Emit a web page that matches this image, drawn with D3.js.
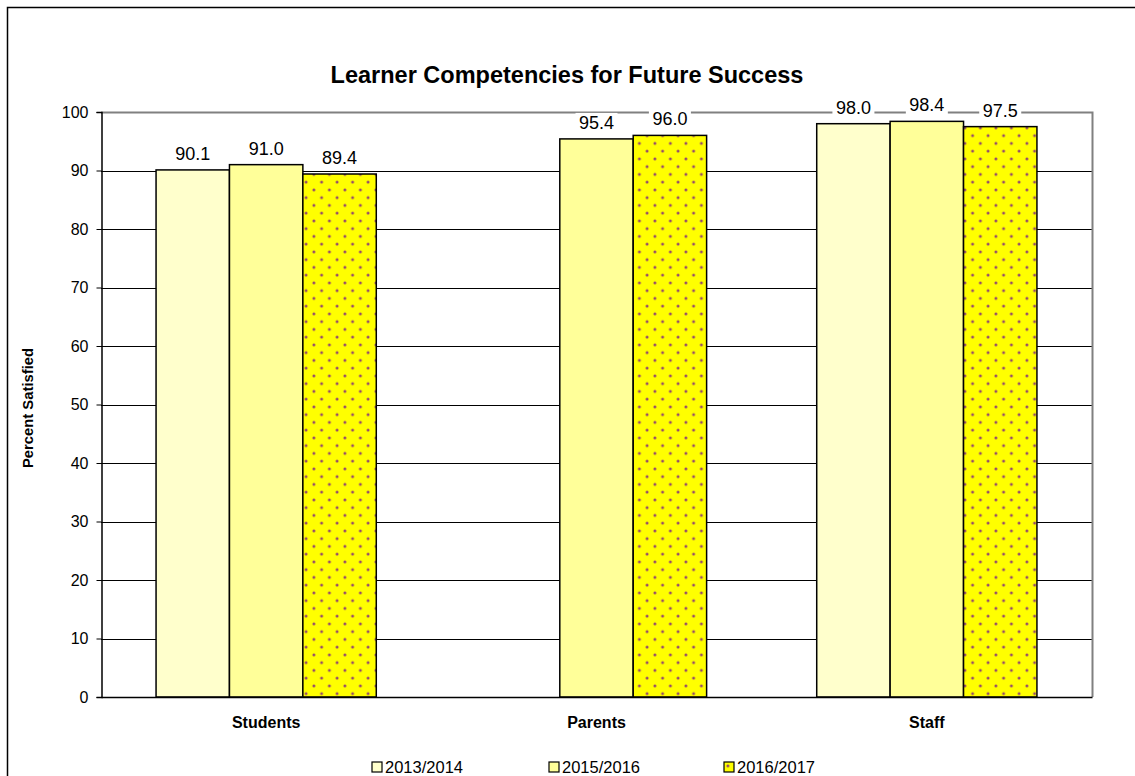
<!DOCTYPE html>
<html>
<head>
    <title>Learner Competencies for Future Success</title>
    <script src="https://cdn.jsdelivr.net/npm/d3@7"></script>
    <style>
        body { margin: 0; background: #fff; }
        text { font-family: Arial, "Liberation Sans", sans-serif; }
    </style>
</head>
<body>
    <div id="chart"></div>
    <script type="text/javascript">
        var categories = ["Students", "Parents", "Staff"];
        var seriesNames = ["2013/2014", "2015/2016", "2016/2017"];
        var v2013 = [90.1, null, 98.0];
        var v2015 = [91.0, 95.4, 98.4];
        var v2016 = [89.4, 96.0, 97.5];
        var yTicks = [0, 10, 20, 30, 40, 50, 60, 70, 80, 90, 100];

        var seriesValues = [v2013, v2015, v2016];
        var fills = ["#FFFFCC", "#FFFF99", "url(#dots)"];

        var width = 1135;
        var height = 776;
        var plot = { left: 101, right: 1092, top: 112, bottom: 697 };

        var svg = d3.select("#chart").append("svg")
            .attr('width', width)
            .attr('height', height)
            .style('display', 'block');

        // dotted fill for the last series
        var pat = svg.append("defs").append("pattern")
            .attr("id", "dots")
            .attr("patternUnits", "userSpaceOnUse")
            .attr("width", 15.5)
            .attr("height", 15.5);
        pat.append("rect").attr("width", 15.5).attr("height", 15.5).attr("fill", "#FFFF00");
        pat.append("circle").attr("cx", 3.9).attr("cy", 3.9).attr("r", 1.5).attr("fill", "#93486e");
        pat.append("circle").attr("cx", 11.6).attr("cy", 11.6).attr("r", 1.5).attr("fill", "#93486e");

        // outer chart border (runs off the right and bottom)
        svg.append("rect")
            .attr("x", 7.5).attr("y", 7.5)
            .attr("width", 1140).attr("height", 800)
            .attr("fill", "none")
            .attr("stroke", "#000")
            .attr("stroke-width", 1.5);

        var yScale = d3.scaleLinear()
            .domain([0, 100])
            .range([plot.bottom, plot.top]);

        var xScale = d3.scaleBand()
            .domain(categories)
            .range([plot.left, plot.right]);

        var groupWidth = xScale.bandwidth() * 2 / 3;
        var inner = d3.scaleBand()
            .domain(seriesNames)
            .range([0, groupWidth]);

        // gridlines
        svg.append("g").selectAll("line")
            .data(yTicks.filter(function(d) { return d > 0 && d < 100; }))
            .enter().append("line")
                .attr("x1", plot.left).attr("x2", plot.right)
                .attr("y1", function(d) { return Math.round(yScale(d)) + 0.5; })
                .attr("y2", function(d) { return Math.round(yScale(d)) + 0.5; })
                .attr("stroke", "#000")
                .attr("stroke-width", 1);

        // plot area border (top & right gray)
        svg.append("path")
            .attr("d", "M" + plot.left + "," + (plot.top + 0.5) + "H" + (plot.right + 0.5) + "V" + plot.bottom)
            .attr("fill", "none")
            .attr("stroke", "#808080")
            .attr("stroke-width", 2);

        // bars
        var barData = [];
        seriesValues.forEach(function(vals, s) {
            vals.forEach(function(v, c) {
                if (v !== null) barData.push({ cat: categories[c], series: seriesNames[s], s: s, value: v });
            });
        });

        function barX(d) {
            return xScale(d.cat) + (xScale.bandwidth() - groupWidth) / 2 + inner(d.series);
        }

        svg.append("g").selectAll("rect")
            .data(barData)
            .enter().append("rect")
                .attr("x", barX)
                .attr("y", function(d) { return yScale(d.value); })
                .attr("width", inner.bandwidth())
                .attr("height", function(d) { return yScale(0) - yScale(d.value); })
                .attr("fill", function(d) { return fills[d.s]; })
                .attr("stroke", "#000")
                .attr("stroke-width", 1.5);

        // value labels with white background
        var labels = svg.append("g").selectAll("g")
            .data(barData)
            .enter().append("g")
                .attr("transform", function(d) {
                    return "translate(" + (barX(d) + inner.bandwidth() / 2) + "," + (yScale(d.value) - 10) + ")";
                });
        labels.append("rect")
            .attr("x", -21).attr("y", -16)
            .attr("width", 42).attr("height", 20)
            .attr("fill", "#fff");
        labels.append("text")
            .attr("text-anchor", "middle")
            .attr("font-size", "18px")
            .attr("fill", "#000")
            .text(function(d) { return d.value.toFixed(1); });

        // y axis
        var yAxis = d3.axisLeft(yScale)
            .tickValues(yTicks)
            .tickSize(5)
            .tickPadding(8);
        var gy = svg.append("g")
            .attr("transform", "translate(" + (plot.left + 0.5) + ",0)")
            .call(yAxis);
        gy.select(".domain").attr("stroke", "#000").attr("stroke-width", 1.5);
        gy.selectAll(".tick line").attr("stroke", "#000");
        gy.selectAll(".tick text")
            .attr("font-size", "16px")
            .attr("font-family", "Arial, 'Liberation Sans', sans-serif")
            .attr("fill", "#000");

        // x axis
        var xAxis = d3.axisBottom(xScale).tickSize(0).tickPadding(0);
        var gx = svg.append("g")
            .attr("transform", "translate(0," + plot.bottom + ")")
            .call(xAxis);
        gx.select(".domain").attr("stroke", "#000").attr("stroke-width", 1.5);
        gx.selectAll(".tick text")
            .attr("dy", null)
            .attr("y", 31)
            .attr("font-size", "16px")
            .attr("font-weight", "bold")
            .attr("font-family", "Arial, 'Liberation Sans', sans-serif")
            .attr("fill", "#000");

        // title
        svg.append("text")
            .attr("x", 567).attr("y", 83)
            .attr("text-anchor", "middle")
            .attr("font-size", "23.5px")
            .attr("font-weight", "bold")
            .text("Learner Competencies for Future Success");

        // y label
        svg.append("text")
            .attr("transform", "translate(33,408) rotate(-90)")
            .attr("text-anchor", "middle")
            .attr("font-size", "14.8px")
            .attr("font-weight", "bold")
            .text("Percent Satisfied");

        // legend
        var legendX = [372, 549, 724];
        var leg = svg.append("g").selectAll("g")
            .data(seriesNames)
            .enter().append("g")
                .attr("transform", function(d, i) { return "translate(" + legendX[i] + ",762)"; });
        leg.append("rect")
            .attr("width", 10).attr("height", 10)
            .attr("fill", function(d, i) { return fills[i]; })
            .attr("stroke", "#000")
            .attr("stroke-width", 1.2);
        leg.append("text")
            .attr("x", 13).attr("y", 10.5)
            .attr("font-size", "16.5px")
            .text(function(d) { return d; });
    </script>
</body>
</html>
